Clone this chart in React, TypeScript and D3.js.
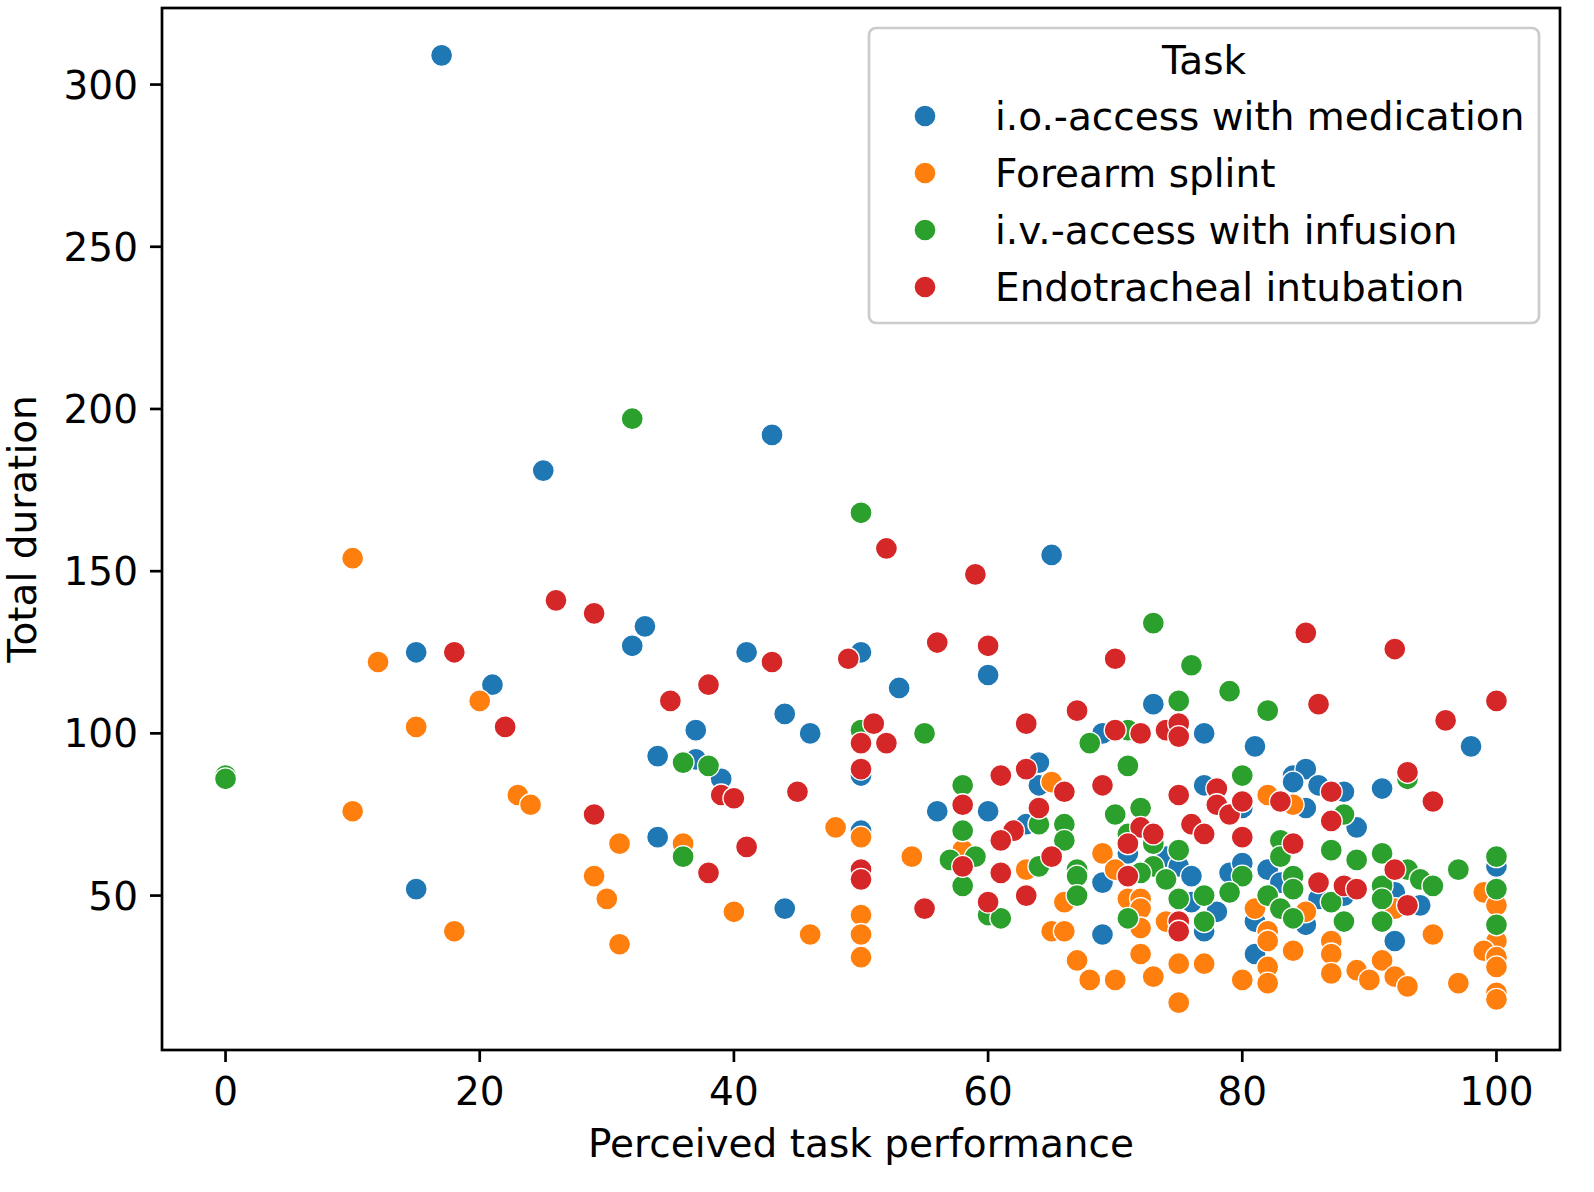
import React from "react";
import * as d3 from "d3";

// [perceived task performance, total duration]
const ioAccess: [number, number][] = [
  [17, 309], [25, 181], [43, 192], [65, 155], [15, 125], [21, 115], [15, 52],
  [33, 133], [32, 127], [41, 125], [50, 125], [44, 106], [46, 100], [53, 114],
  [37, 101], [50, 87], [34, 93], [37, 92], [39, 86], [56, 76], [50, 70], [34, 68],
  [44, 46], [60, 118], [73, 109], [69, 100], [64, 91], [64, 84], [60, 76], [63, 72],
  [69, 54], [69, 38], [77, 100], [81, 96], [77, 84], [80, 77], [84, 87], [85, 89],
  [84, 85], [86, 84], [85, 77], [88, 82], [89, 71], [71, 63], [74, 62], [75, 59],
  [76, 56], [76, 48], [78, 45], [77, 39], [79, 57], [80, 60], [82, 58], [83, 54],
  [81, 42], [81, 32], [85, 41], [86, 49], [88, 50], [91, 83], [98, 96], [92, 51],
  [94, 47], [92, 36], [100, 59], [58, 62],
];

const forearmSplint: [number, number][] = [
  [10, 154], [12, 122], [20, 110], [15, 102], [10, 76], [23, 81], [24, 78], [18, 39],
  [29, 56], [30, 49], [31, 66], [31, 35], [36, 66], [40, 45], [46, 38], [48, 71],
  [50, 68], [50, 44], [50, 38], [50, 31], [54, 62], [58, 64], [63, 58], [65, 85],
  [66, 48], [65, 39], [66, 39], [67, 30], [68, 24], [70, 24], [69, 63], [70, 58],
  [71, 49], [72, 49], [72, 46], [72, 40], [72, 32], [73, 25], [74, 42], [75, 29],
  [77, 29], [75, 17], [80, 24], [82, 81], [84, 78], [81, 46], [85, 45], [82, 39],
  [82, 36], [84, 33], [82, 28], [82, 23], [87, 36], [87, 32], [87, 26], [89, 27],
  [90, 24], [91, 30], [92, 25], [93, 22], [92, 46], [95, 38], [97, 23], [99, 51],
  [100, 47], [100, 36], [99, 33], [100, 31], [100, 28], [100, 20], [100, 18],
];

const ivAccess: [number, number][] = [
  [0, 87], [0, 86], [32, 197], [50, 168], [73, 134], [76, 121], [79, 113], [82, 107],
  [75, 110], [55, 100], [50, 101], [36, 91], [38, 90], [36, 62], [68, 97], [71, 101],
  [71, 90], [80, 87], [58, 84], [58, 70], [64, 72], [66, 72], [66, 67], [67, 58],
  [67, 56], [67, 50], [57, 61], [59, 62], [58, 53], [60, 44], [61, 43], [64, 59],
  [70, 75], [72, 77], [71, 69], [73, 66], [73, 59], [72, 57], [74, 55], [75, 64],
  [75, 49], [77, 50], [71, 43], [77, 42], [80, 56], [79, 51], [83, 67], [83, 62],
  [84, 56], [84, 52], [82, 50], [83, 46], [84, 43], [87, 64], [88, 75], [89, 61],
  [87, 48], [88, 42], [93, 86], [91, 63], [93, 58], [94, 55], [95, 53], [91, 53],
  [91, 49], [91, 42], [97, 58], [100, 62], [100, 52], [100, 41],
];

const intubation: [number, number][] = [
  [26, 141], [29, 137], [18, 125], [22, 102], [43, 122], [49, 123], [56, 128],
  [60, 127], [38, 115], [35, 110], [51, 103], [50, 97], [52, 97], [50, 89], [39, 81],
  [40, 80], [45, 82], [29, 75], [41, 65], [50, 58], [50, 55], [38, 57], [55, 46],
  [52, 157], [59, 149], [85, 131], [92, 126], [86, 109], [100, 110], [96, 104],
  [70, 123], [67, 107], [63, 103], [70, 101], [72, 100], [74, 101], [75, 103],
  [75, 99], [63, 89], [66, 82], [61, 87], [58, 78], [64, 77], [62, 70], [61, 67],
  [65, 62], [58, 59], [61, 57], [63, 50], [60, 48], [69, 84], [75, 81], [78, 83],
  [78, 78], [79, 75], [80, 79], [83, 79], [87, 82], [87, 73], [72, 71], [73, 69],
  [76, 72], [77, 69], [80, 68], [71, 66], [71, 56], [75, 42], [75, 39], [84, 66],
  [86, 54], [88, 53], [89, 52], [93, 88], [95, 79], [92, 58], [93, 47],
];

const taskNames = [
  "i.o.-access with medication",
  "Forearm splint",
  "i.v.-access with infusion",
  "Endotracheal intubation",
];
const taskData = [ioAccess, forearmSplint, ivAccess, intubation];
const xTicks = [0, 20, 40, 60, 80, 100];
const yTicks = [50, 100, 150, 200, 250, 300];

const colors = ["#1f77b4", "#ff7f0e", "#2ca02c", "#d62728"];

const W = 1594;
const H = 1192;
const left = 162;
const right = 1560;
const top = 8;
const bottom = 1050;
const font = "'DejaVu Sans', sans-serif";
const fs = 39;
const r = 11;

export default function App() {
  const x = d3.scaleLinear().domain([-5, 105]).range([left, right]);
  const y = d3.scaleLinear().domain([2.4, 323.6]).range([bottom, top]);

  return (
    <>
      <style>{`body{margin:0}`}</style>
      <svg width={W} height={H} style={{ display: "block", background: "#fff" }}>
        {/* points */}
        <g>
          {taskData.map((pts, i) =>
            pts.map((d, j) => (
              <circle
                key={`${i}-${j}`}
                cx={x(d[0])}
                cy={y(d[1])}
                r={r}
                fill={colors[i]}
                stroke="#fff"
                strokeWidth={1.3}
              />
            ))
          )}
        </g>

        {/* spines */}
        <rect
          x={left}
          y={top}
          width={right - left}
          height={bottom - top}
          fill="none"
          stroke="#000"
          strokeWidth={2.7}
        />

        {/* x axis */}
        <g fontFamily={font} fontSize={fs} fill="#000">
          {xTicks.map((t) => (
            <g key={t} transform={`translate(${x(t)},${bottom})`}>
              <line y1={0} y2={12} stroke="#000" strokeWidth={2.7} />
              <text y={55} textAnchor="middle">
                {t}
              </text>
            </g>
          ))}
          <text x={(left + right) / 2} y={1157} textAnchor="middle">
            Perceived task performance
          </text>
        </g>

        {/* y axis */}
        <g fontFamily={font} fontSize={fs} fill="#000">
          {yTicks.map((t) => (
            <g key={t} transform={`translate(${left},${y(t)})`}>
              <line x1={0} x2={-12} stroke="#000" strokeWidth={2.7} />
              <text x={-24} dy="0.36em" textAnchor="end">
                {t}
              </text>
            </g>
          ))}
          <text
            transform={`translate(36,${(top + bottom) / 2}) rotate(-90)`}
            textAnchor="middle"
          >
            Total duration
          </text>
        </g>

        {/* legend */}
        <g fontFamily={font} fontSize={fs}>
          <rect
            x={869}
            y={28}
            width={670}
            height={295}
            rx={7}
            fill="#fff"
            fillOpacity={0.8}
            stroke="#cccccc"
            strokeWidth={2.7}
          />
          <text x={1204} y={74} textAnchor="middle">
            Task
          </text>
          {taskNames.map((name, i) => (
            <g key={name} transform={`translate(0,${116 + i * 57})`}>
              <circle cx={925} cy={0} r={r} fill={colors[i]} stroke="#fff" strokeWidth={1.3} />
              <text x={995} dy="0.36em">
                {name}
              </text>
            </g>
          ))}
        </g>
      </svg>
    </>
  );
}
